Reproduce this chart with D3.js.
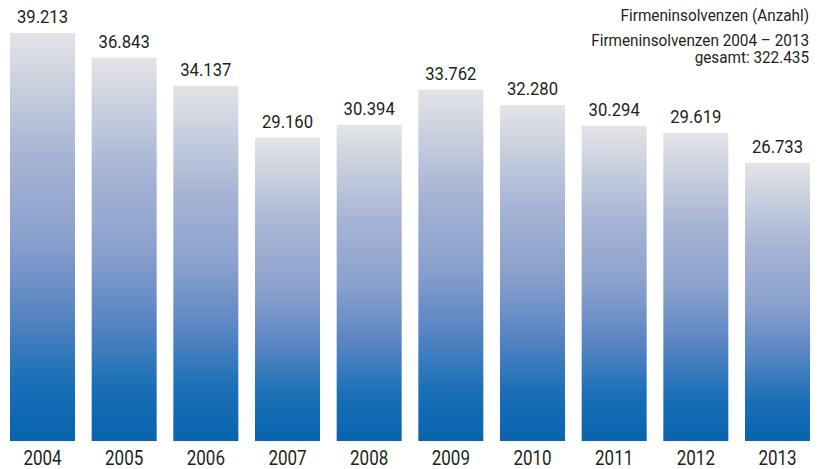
<!DOCTYPE html>
<html>
<head>
<meta charset="utf-8">
<script src="https://cdn.jsdelivr.net/npm/d3@7"></script>
<style>
  html, body { margin: 0; padding: 0; background: #fff; }
  svg { display: block; }
  text { font-family: "Roboto", "Liberation Sans", sans-serif; fill: #231f20; }
</style>
</head>
<body>
<svg id="chart" width="825" height="469"></svg>
<script>
const years = ["2004","2005","2006","2007","2008","2009","2010","2011","2012","2013"];
const values = [39213, 36843, 34137, 29160, 30394, 33762, 32280, 30294, 29619, 26733];
const valueLabels = ["39.213","36.843","34.137","29.160","30.394","33.762","32.280","30.294","29.619","26.733"];
const legendLines = ["Firmeninsolvenzen (Anzahl)", "Firmeninsolvenzen 2004 – 2013", "gesamt: 322.435"];

const svg = d3.select("#chart");
const bw = 65;
const x = d3.scalePoint().domain(years).range([10, 810 - bw]);
const y = d3.scaleLinear().domain([0, 39213]).range([441, 33]);

const defs = svg.append("defs");
const grad = defs.append("linearGradient").attr("id", "barGrad")
  .attr("x1", 0).attr("y1", 0).attr("x2", 0).attr("y2", 1);
[[0, "#e3e4e7"], [0.3, "#a6b4d4"], [0.5, "#8ba1cd"], [0.68, "#5b86c3"], [0.85, "#1b70b7"], [1, "#0863ae"]]
  .forEach(([o, c]) => grad.append("stop").attr("offset", o).attr("stop-color", c));

const data = years.map((yr, i) => ({year: yr, value: values[i], label: valueLabels[i]}));

svg.append("g").selectAll("rect").data(data).join("rect")
  .attr("x", d => x(d.year))
  .attr("y", d => y(d.value))
  .attr("width", bw)
  .attr("height", d => y(0) - y(d.value))
  .attr("fill", "url(#barGrad)");

svg.append("g").selectAll("text").data(data).join("text")
  .attr("transform", d => `translate(${x(d.year) + bw / 2},${y(d.value) - 10}) scale(0.9,1)`)
  .attr("text-anchor", "middle")
  .attr("font-size", 18.5)
  .text(d => d.label);

svg.append("g").selectAll("text").data(data).join("text")
  .attr("transform", d => `translate(${x(d.year) + bw / 2},465) scale(0.85,1)`)
  .attr("text-anchor", "middle")
  .attr("font-size", 20)
  .text(d => d.year);

const leg = svg.append("g");
const legY = [20.5, 45.5, 62.5];
legendLines.forEach((t, i) => {
  leg.append("text").attr("transform", `translate(809,${legY[i]}) scale(0.9,1)`)
    .attr("text-anchor", "end").attr("font-size", 17).text(t);
});
</script>
</body>
</html>
